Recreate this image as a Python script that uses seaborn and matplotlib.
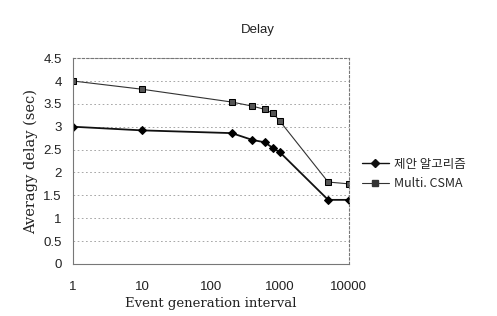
import matplotlib
matplotlib.use('Agg')
import matplotlib.pyplot as plt
import pandas as pd
import seaborn as sns

# data
intervals = [1, 10, 200, 400, 600, 800, 1000, 5000, 10000]
proposed = [3.0, 2.92, 2.86, 2.71, 2.66, 2.53, 2.44, 1.40, 1.40]
multi_csma = [4.0, 3.82, 3.54, 3.45, 3.38, 3.29, 3.12, 1.79, 1.75]
series_names = ['제안 알고리즘', 'Multi. CSMA']
y_ticks = [0, 0.5, 1, 1.5, 2, 2.5, 3, 3.5, 4, 4.5]
x_ticks = [1, 10, 100, 1000, 10000]

df = pd.DataFrame({
    'interval': intervals * 2,
    'delay': proposed + multi_csma,
    'series': [series_names[0]] * len(intervals) + [series_names[1]] * len(intervals),
})

sns.set_style('white')
plt.rcParams['font.family'] = ['Liberation Sans', 'Noto Sans CJK KR', 'DejaVu Sans']

fig = plt.figure(figsize=(4.97, 3.16), dpi=100)
ax = fig.add_axes([0.147, 0.165, 0.555, 0.651])

ax = sns.lineplot(data=df, x='interval', y='delay', hue='series', style='series',
                  markers={series_names[0]: 'D', series_names[1]: 's'}, dashes=False,
                  palette={series_names[0]: '#111111', series_names[1]: '#333333'},
                  markersize=4, ax=ax, legend=False)
lines = ax.get_lines()
lines[0].set_linewidth(1.3)
lines[1].set_linewidth(0.8)
for ln in lines:
    ln.set_markeredgecolor('black')
    ln.set_markerfacecolor('black')
lines[1].set_markerfacecolor('#555555')

ax.set_xscale('log')
ax.set_xlim(1, 10000)
ax.set_ylim(0, 4.5)
ax.set_xticks(x_ticks)
ax.set_xticklabels([str(t) for t in x_ticks])
ax.set_yticks(y_ticks)
ax.set_yticklabels([f'{t:g}' for t in y_ticks])
ax.minorticks_off()
ax.tick_params(labelsize=9.5, colors='#222222', length=0, pad=8)
ax.tick_params(axis='x', pad=12)
ax.yaxis.grid(True, linestyle=(0, (2, 3)), color='#999999', linewidth=0.6)

for s in ax.spines.values():
    s.set_color('#777777')
    s.set_linewidth(0.8)
ax.spines['top'].set_linestyle((0, (2, 2)))
ax.spines['right'].set_linestyle((0, (2, 2)))

ax.set_xlabel('Event generation interval', family='DejaVu Serif', fontsize=9.5,
              color='#222222', labelpad=3)
ax.set_ylabel('Averagy delay (sec)', family='DejaVu Serif', fontsize=10.5,
              color='#222222', labelpad=4)

fig.text(0.519, 0.905, 'Delay', ha='center', va='center', fontsize=9.5, color='#222222')

handles = [plt.Line2D([], [], color='#111111', marker='D', markersize=4, lw=1.0),
           plt.Line2D([], [], color='#333333', marker='s', markersize=4, lw=0.8)]
fig.legend(handles, series_names, loc='center left', bbox_to_anchor=(0.705, 0.45),
           frameon=False, handlelength=2.2, handletextpad=0.4,
           labelspacing=0.5, prop={'family': ['Noto Sans CJK KR', 'DejaVu Sans'], 'size': 9})

plt.savefig('out.png', dpi=100)
